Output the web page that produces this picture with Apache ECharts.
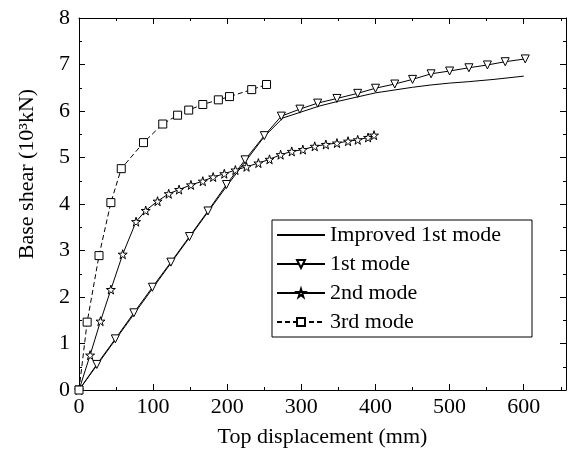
<!DOCTYPE html>
<html>
<head>
<meta charset="utf-8">
<script src="https://cdn.jsdelivr.net/npm/echarts@6/dist/echarts.min.js"></script>
<style>
  html, body { margin: 0; padding: 0; background: #fff; }
  #chart { width: 568px; height: 453px; }
</style>
</head>
<body>
<div id="chart"></div>
<script>
// [displacement mm, base shear 10^3 kN]
const improvedFirst = [
  [0, 0], [50, 1.1], [100, 2.2], [150, 3.3], [200, 4.4], [250, 5.45], [275, 5.85],
  [300, 5.98], [325, 6.11], [350, 6.21], [375, 6.3], [400, 6.39], [425, 6.45],
  [450, 6.51], [475, 6.56], [500, 6.6], [525, 6.63], [560, 6.68], [600, 6.75]
]
const firstMode = [
  [0, 0], [24, 0.55], [49, 1.1], [74, 1.66], [99, 2.21], [124, 2.75], [149, 3.3],
  [174, 3.85], [199, 4.42], [224, 4.95], [250, 5.47], [273, 5.89], [298, 6.04],
  [322, 6.17], [348, 6.27], [376, 6.38], [400, 6.49], [426, 6.58], [450, 6.68],
  [475, 6.8], [500, 6.86], [526, 6.93], [551, 6.99], [575, 7.06], [602, 7.12]
]
const secondMode = [
  [0, 0], [15, 0.75], [29, 1.48], [43, 2.16], [59, 2.92], [77, 3.62], [90, 3.86],
  [106, 4.06], [121, 4.22], [135, 4.31], [151, 4.41], [167, 4.49], [181, 4.58],
  [196, 4.65], [211, 4.73], [226, 4.8], [242, 4.88], [257, 4.96], [272, 5.06],
  [287, 5.13], [302, 5.17], [318, 5.24], [333, 5.28], [348, 5.31], [363, 5.35],
  [376, 5.38], [390, 5.43], [398, 5.48]
]
const thirdMode = [
  [0, 0], [11, 1.46], [27, 2.89], [43, 4.03], [57, 4.76], [87, 5.32], [113, 5.72],
  [133, 5.91], [148, 6.02], [167, 6.14], [188, 6.24], [203, 6.31], [233, 6.46],
  [253, 6.57]
]
const seriesNames = ['Improved 1st mode', '1st mode', '2nd mode', '3rd mode']

const FONT = 'Liberation Serif'
const STAR = 'path://M50,0 L61,35 L98,35 L68,57 L79,91 L50,70 L21,91 L32,57 L2,35 L39,35 Z'
const CLEAR = 'rgba(0,0,0,0)'

const chart = echarts.init(document.getElementById('chart'))

function xAxisBox(position, showLabels) {
  return {
    type: 'value',
    position,
    min: 0,
    max: 657,
    interval: 100,
    axisLine: { show: true, onZero: false, lineStyle: { color: '#000', width: 1 } },
    axisTick: { show: true, inside: true, length: 6, lineStyle: { color: '#000' } },
    minorTick: { show: true, splitNumber: 2, length: 3, lineStyle: { color: '#000' } },
    splitLine: { show: false },
    axisLabel: {
      show: showLabels,
      showMaxLabel: false,
      color: '#000',
      fontFamily: FONT,
      fontSize: 22,
      margin: 6
    }
  }
}

function yAxisBox(position, showLabels) {
  return {
    type: 'value',
    position,
    min: 0,
    max: 8,
    interval: 1,
    axisLine: { show: true, onZero: false, lineStyle: { color: '#000', width: 1 } },
    axisTick: { show: true, inside: true, length: 6, lineStyle: { color: '#000' } },
    minorTick: { show: true, splitNumber: 2, length: 3, lineStyle: { color: '#000' } },
    splitLine: { show: false },
    axisLabel: {
      show: showLabels,
      color: '#000',
      fontFamily: FONT,
      fontSize: 22,
      margin: 9
    }
  }
}

const xBottom = xAxisBox('bottom', true)
xBottom.name = 'Top displacement (mm)'
xBottom.nameLocation = 'middle'
xBottom.nameGap = 36
xBottom.nameTextStyle = { color: '#000', fontFamily: FONT, fontSize: 22 }

function lineSeries(name, data, symbol, size, extra) {
  return Object.assign({
    name,
    type: 'line',
    data,
    symbol,
    symbolSize: size,
    showSymbol: true,
    xAxisIndex: 0,
    yAxisIndex: 0,
    animation: false,
    itemStyle: { color: '#fff', borderColor: '#000', borderWidth: 1 },
    lineStyle: { color: '#000', width: 1 }
  }, extra)
}

const option = {
  backgroundColor: '#fff',
  animation: false,
  grid: { left: 79, right: 2, top: 18, bottom: 63 },
  xAxis: [xBottom, xAxisBox('top', false)],
  yAxis: [yAxisBox('left', true), yAxisBox('right', false)],
  legend: {
    data: [
      { name: seriesNames[0], itemStyle: { color: CLEAR, borderColor: CLEAR, borderWidth: 0 } },
      seriesNames[1],
      seriesNames[2],
      seriesNames[3]
    ],
    orient: 'vertical',
    left: 272,
    top: 220,
    itemWidth: 48,
    itemHeight: 10,
    itemGap: 7,
    padding: [4, 30, 4, 4],
    borderColor: '#000',
    borderWidth: 1,
    backgroundColor: '#fff',
    textStyle: { color: '#000', fontFamily: FONT, fontSize: 22, lineHeight: 22, width: 172 }
  },
  graphic: [{
    type: 'text',
    x: 27,
    y: 174,
    rotation: Math.PI / 2,
    style: {
      text: 'Base shear (10³kN)',
      fill: '#000',
      font: '22px "Liberation Serif"',
      textAlign: 'center',
      textVerticalAlign: 'middle'
    }
  }],
  series: [
    lineSeries(seriesNames[0], improvedFirst, 'none', 0, { showSymbol: false }),
    lineSeries(seriesNames[1], firstMode, 'triangle', 8, { symbolRotate: 180 }),
    lineSeries(seriesNames[2], secondMode, STAR, 9),
    lineSeries(seriesNames[3], thirdMode, 'rect', 8, {
      lineStyle: { color: '#000', width: 1, type: [5, 3] }
    })
  ]
}

chart.setOption(option)
</script>
</body>
</html>
